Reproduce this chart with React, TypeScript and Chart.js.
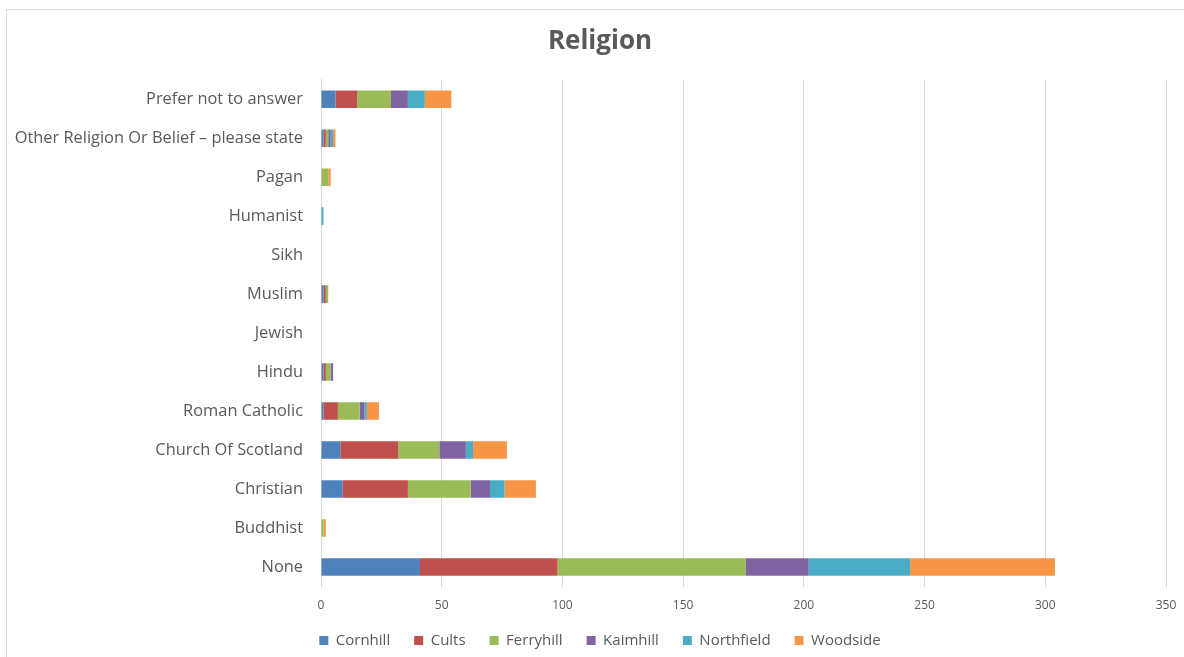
import React, { useEffect, useRef } from "react";
import { Chart, registerables } from "chart.js";

Chart.register(...registerables);

const categories = [
  "None",
  "Buddhist",
  "Christian",
  "Church Of Scotland",
  "Roman Catholic",
  "Hindu",
  "Jewish",
  "Muslim",
  "Sikh",
  "Humanist",
  "Pagan",
  "Other Religion Or Belief – please state",
  "Prefer not to answer",
];

const cornhill = [41, 0, 9, 8, 1, 1, 0, 1, 0, 0, 0, 1, 6];
const cults = [57, 0, 27, 24, 6, 1, 0, 1, 0, 0, 0, 1, 9];
const ferryhill = [78, 1, 26, 17, 9, 2, 0, 1, 0, 0, 3, 1, 14];
const kaimhill = [26, 0, 8, 11, 2, 1, 0, 0, 0, 0, 0, 1, 7];
const northfield = [42, 0, 6, 3, 1, 0, 0, 0, 0, 1, 0, 1, 7];
const woodside = [60, 1, 13, 14, 5, 0, 0, 0, 0, 0, 1, 1, 11];

const seriesNames = ["Cornhill", "Cults", "Ferryhill", "Kaimhill", "Northfield", "Woodside"];
const seriesValues = [cornhill, cults, ferryhill, kaimhill, northfield, woodside];
const seriesColors = ["#4F81BD", "#C0504D", "#9BBB59", "#8064A2", "#4BACC6", "#F79646"];

const xTicks = [0, 50, 100, 150, 200, 250, 300, 350];

const FONT = "'Open Sans', Lato, sans-serif";

export default function App() {
  const canvasRef = useRef<HTMLCanvasElement | null>(null);

  useEffect(() => {
    const canvas = canvasRef.current;
    if (!canvas) return;
    const chart = new Chart(canvas, {
      type: "bar",
      data: {
        labels: categories,
        datasets: seriesNames.map((name, i) => ({
          label: name,
          data: seriesValues[i],
          backgroundColor: seriesColors[i],
          borderWidth: 0,
          categoryPercentage: 1,
          barPercentage: 0.45,
        })),
      },
      options: {
        indexAxis: "y",
        animation: false,
        responsive: false,
        maintainAspectRatio: false,
        layout: { padding: { left: 12, right: 0, top: 0, bottom: 0 } },
        plugins: {
          title: {
            display: true,
            text: "Religion",
            color: "#595959",
            font: { family: FONT, size: 26, weight: "bold" },
            padding: { top: 26, bottom: 22.5 },
          },
          legend: {
            display: true,
            position: "bottom",
            labels: {
              color: "#595959",
              font: { family: FONT, size: 15 },
              boxWidth: 9,
              boxHeight: 9,
              padding: 24,
            },
          },
          tooltip: { enabled: false },
        },
        scales: {
          x: {
            stacked: true,
            min: 0,
            max: 350,
            afterBuildTicks: (scale: any) => {
              scale.ticks = xTicks.map((v) => ({ value: v }));
            },
            afterFit: (scale: any) => {
              scale.height = 22.5;
              scale.paddingRight = 22;
            },
            grid: { color: "#d9d9d9", drawTicks: false, lineWidth: 1 },
            border: { display: false },
            ticks: {
              color: "#595959",
              font: { family: FONT, size: 12 },
              padding: 12,
            },
          },
          y: {
            stacked: true,
            reverse: true,
            grid: { display: false, drawTicks: false },
            border: { display: true, color: "#d9d9d9", width: 1 },
            ticks: {
              color: "#595959",
              font: { family: FONT, size: 16.4 },
              padding: 18,
              autoSkip: false,
            },
            afterFit: (scale: any) => {
              scale.width = 309;
            },
          },
        },
      },
    });
    return () => chart.destroy();
  }, []);

  return (
    <div
      style={{
        position: "fixed",
        left: 0,
        top: 0,
        width: 1184,
        height: 657,
        overflow: "hidden",
        background: "#ffffff",
      }}
    >
      <div
        style={{
          position: "absolute",
          left: 6,
          top: 9,
          width: 1300,
          height: 800,
          border: "1px solid #d9d9d9",
        }}
      />
      <canvas
        ref={canvasRef}
        width={1188}
        height={658}
        style={{ position: "absolute", left: 0, top: 0 }}
      />
    </div>
  );
}
